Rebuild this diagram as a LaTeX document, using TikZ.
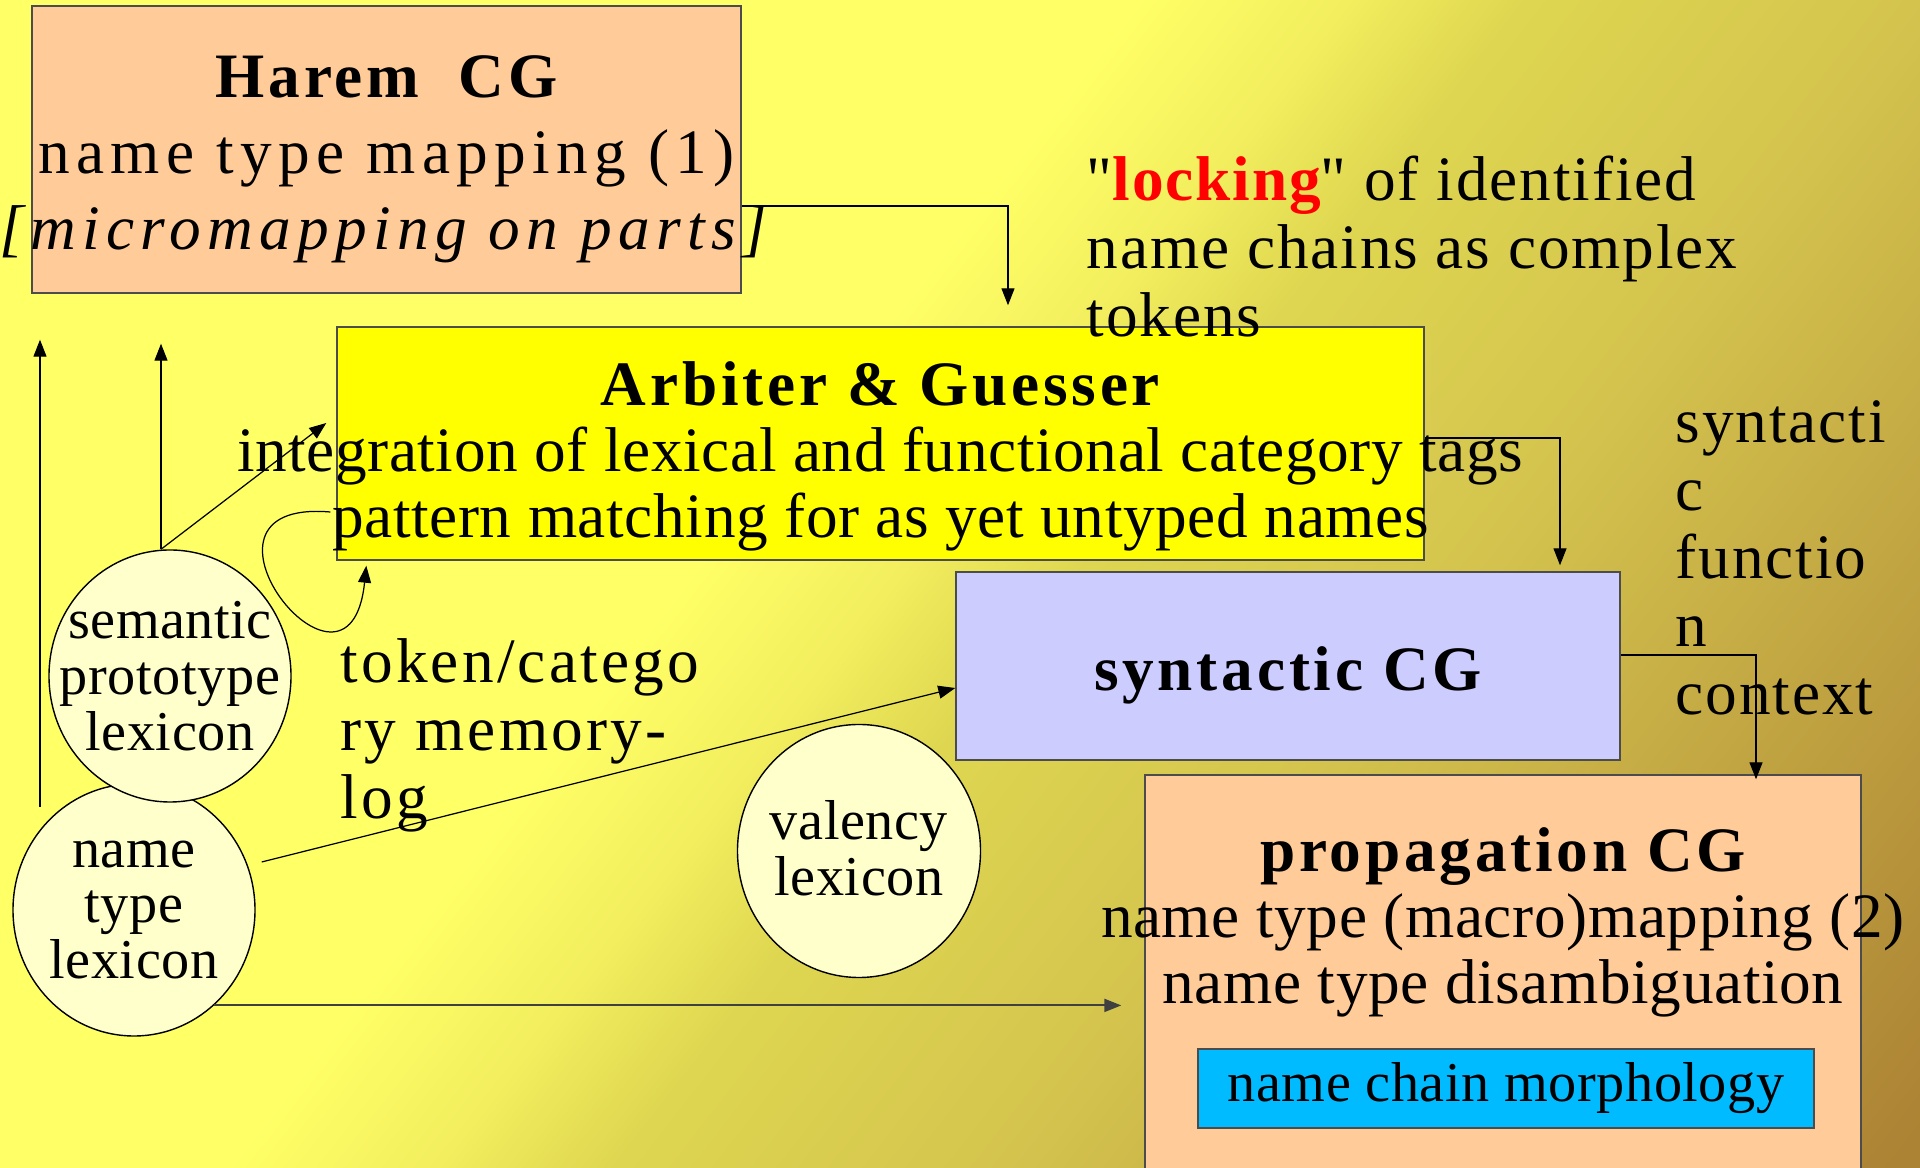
\documentclass[tikz,border=0pt]{standalone}
\usepackage{fontspec}
\setmainfont{Liberation Serif}[LetterSpace=3]
\newfontfamily\wideserif{Liberation Serif}[LetterSpace=10]
\newfontfamily\titleserif{Liberation Serif}[LetterSpace=6]
\newfontfamily\plainserif{Liberation Serif}[LetterSpace=1]
\newfontfamily\noteserif{Liberation Serif}[LetterSpace=5]
\usetikzlibrary{positioning,arrows.meta,shapes.geometric}

\definecolor{peach}{HTML}{FFCC99}
\definecolor{lavender}{HTML}{CCCCFF}
\definecolor{paleyellow}{HTML}{FFFFCC}
\definecolor{boxyellow}{RGB}{255,255,0}
\definecolor{chainblue}{HTML}{00BBFF}
\definecolor{bgA}{HTML}{FFFF66}
\definecolor{bgB}{HTML}{F2EE5E}
\definecolor{bgC}{HTML}{DED650}
\definecolor{bgD}{HTML}{D4C44E}
\definecolor{bgE}{HTML}{AC8234}
\pgfdeclarehorizontalshading{bgshade}{100bp}{color(0bp)=(bgA); color(46.7bp)=(bgA); color(49.2bp)=(bgB); color(51.3bp)=(bgC); color(55.9bp)=(bgD); color(66.5bp)=(bgE); color(100bp)=(bgE)}

\tikzset{%
    box/.style={draw=black!70, line width=0.4pt, inner sep=0pt},
    lex/.style={ellipse, draw=black, line width=0.4pt, fill=paleyellow, minimum width=24.2mm, minimum height=25.2mm, inner sep=0pt},
    lextext/.style={align=center, inner sep=0pt, font=\plainserif\fontsize{16}{15.9}\selectfont},
    boxtext/.style={align=center, inner sep=0pt, font=\plainserif\fontsize{18}{18.7}\selectfont},
    note/.style={anchor=west, align=left, inner sep=0pt, font=\fontsize{18}{19.4}\selectfont},
    arr/.style={-{Triangle[length=1.7mm,width=1.3mm]}, line width=0.35pt},
}

\begin{document}
\begin{tikzpicture}[x=1mm,y=-1mm]

    \useasboundingbox (0,0) rectangle (192,116.8);
    \clip (0,0) rectangle (192,116.8);
    % background
    \shade[shading=bgshade, transform canvas={rotate around={-38:(96,58.4)}}] (-70,-70) rectangle (262,187);

    % boxes
    \node[box, fill=peach, minimum width=70.9mm, minimum height=28.7mm] (harem) at (38.65,14.95) {};
    \node[box, fill=boxyellow, minimum width=108.7mm, minimum height=23.3mm] (arbiter) at (88.05,44.35) {};
    \node[box, fill=lavender, minimum width=66.4mm, minimum height=18.8mm] (syntactic) at (128.8,66.6) {};
    \node[box, fill=peach, minimum width=71.6mm, minimum height=42.5mm] (propagation) at (150.3,98.75) {};
    \node[box, fill=chainblue, minimum width=61.6mm, minimum height=7.9mm, font=\plainserif\fontsize{16}{16}\selectfont] (chain) at (150.6,108.85) {name chain morphology};

    % lexica
    \node[lex] (nt) at (13.4,91.0) {};
    \node[lex] (sem) at (17.0,67.6) {};
    \node[lex, minimum width=24.3mm, minimum height=25.3mm] (val) at (85.9,85.1) {};
    \node[lextext] (nttext) at (nt) {name\\type\\lexicon};
    \node[lextext] (semtext) at (sem) {semantic\\prototype\\lexicon};
    \node[lextext] (valtext) at ([yshift=0.3mm]val) {valency\\lexicon};

    % box texts
    \node[align=center, inner sep=0pt, font=\wideserif\fontsize{18}{21.6}\selectfont] (haremtext) at ([yshift=-1mm]harem.center)
        {{\titleserif\bfseries Harem\ \ CG}\\name type mapping (1)\\\textit{[micromapping on parts]}};
    \node[boxtext] (arbitertext) at ([yshift=-1.3mm]arbiter.center)
        {{\titleserif\bfseries Arbiter \& Guesser}\\integration of lexical and functional category tags\\pattern matching for as yet untyped names};
    \node[boxtext, font=\titleserif\bfseries\fontsize{18}{18}\selectfont] (syntactictext) at ([yshift=-0.9mm]syntactic.center) {syntactic CG};
    \node[boxtext] (propagationtext) at ([yshift=-14.8mm]propagation.north)
        {{\titleserif\bfseries propagation CG}\\name type (macro)mapping (2)\\name type disambiguation};

    % loose notes
    \node[note] (locking) at (108.6,24.65) {\textquotedbl\textcolor{red}{\bfseries locking}\textquotedbl{} of identified\\name chains as complex\\tokens};
    \node[note, font=\noteserif\fontsize{18}{19.4}\selectfont] (memory) at (34.0,73.55) {token/catego\\ry memory-\\log};
    \node[note] (context) at (167.5,55.8) {syntacti\\c\\functio\\n\\context};

    % arrows
    \coordinate (ntup) at (4.0,80.7);
    \coordinate (semtop) at ([xshift=-0.9mm]sem.north);
    \draw[arr, shorten >=4.6mm] (ntup) -- (ntup |- harem.south);
    \draw[arr, shorten >=5mm] (semtop) -- (semtop |- harem.south);
    \draw[arr] (semtop) -- ([xshift=-1mm,yshift=2.05mm]arbiter.west);
    \draw[arr] ([xshift=-0.6mm,yshift=-6.85mm]arbiter.west) .. controls +(-16.4,-1.4) and +(-1.7,16.5) .. ([xshift=3mm,yshift=-0.5mm]arbiter.south west);
    \draw[arr, shorten >=2.1mm] ([yshift=-5.65mm]harem.east) -| ([xshift=12.75mm]arbiter.north);
    \draw[arr, shorten >=0.6mm] ([yshift=0.55mm]arbiter.east) -| ([xshift=27.2mm]syntactic.north);
    \draw[arr, shorten >=-0.5mm] ([yshift=1.1mm]syntactic.east) -| ([xshift=25.3mm]propagation.north);
    \draw[arr] ([xshift=0.6mm,yshift=4.8mm]nt.east) -- ([yshift=-2.2mm]syntactic.west);
    \draw[arr, line width=0.6pt, black!75, shorten >=2.3mm] (nt.310) -- (nt.310 -| propagation.west);

\end{tikzpicture}
\end{document}
